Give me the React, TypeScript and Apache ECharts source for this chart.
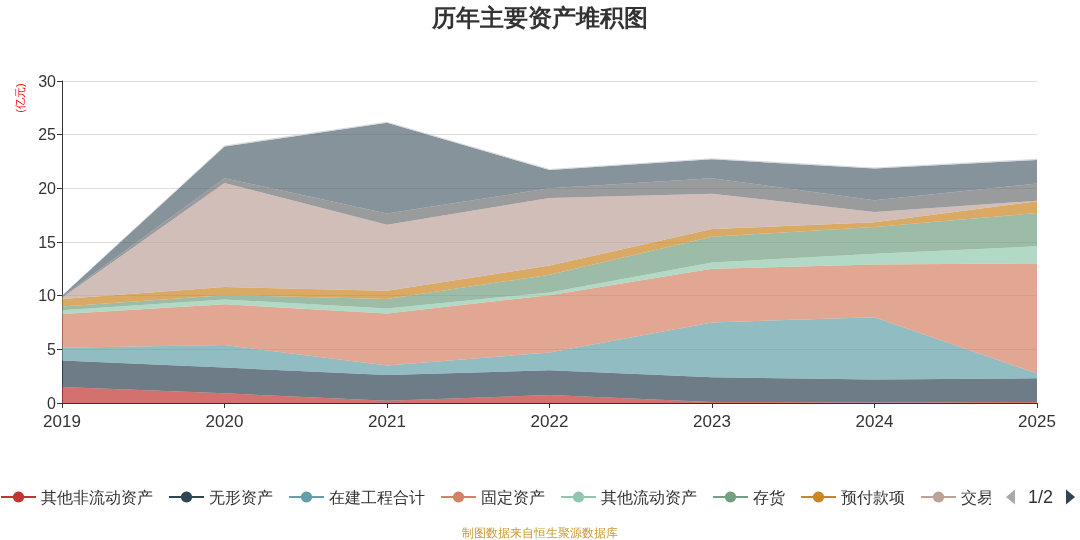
import React, { useEffect, useRef } from "react";
import * as echarts from "echarts";

const years = ["2019", "2020", "2021", "2022", "2023", "2024", "2025"];

const otherNonCurrent = [1.5, 0.9, 0.2, 0.75, 0.1, 0.05, 0.1];
const intangible = [2.45, 2.4, 2.4, 2.3, 2.3, 2.15, 2.2];
const construction = [1.2, 2.1, 0.9, 1.65, 5.1, 5.8, 0.45];
const fixedAssets = [3.15, 3.8, 4.85, 5.35, 5.0, 4.9, 10.25];
const otherCurrent = [0.35, 0.45, 0.45, 0.25, 0.6, 1.0, 1.6];
const inventory = [0.35, 0.4, 0.9, 1.65, 2.4, 2.5, 3.1];
const prepayments = [0.7, 0.75, 0.75, 0.85, 0.7, 0.45, 1.1];
const tradingAssets = [0.1, 9.7, 6.15, 6.3, 3.3, 0.95, 0.05];
const receivables = [0.1, 0.45, 1.05, 0.9, 1.45, 1.1, 1.6];
const cash = [0.1, 2.95, 8.45, 1.7, 1.75, 2.95, 2.2];
const others = [0.05, 0.1, 0.1, 0.1, 0.1, 0.1, 0.1];

const seriesNames = [
  "其他非流动资产",
  "无形资产",
  "在建工程合计",
  "固定资产",
  "其他流动资产",
  "存货",
  "预付款项",
  "交易性金融资产",
  "应收账款",
  "货币资金",
  "其他资产",
];
const seriesData = [
  otherNonCurrent,
  intangible,
  construction,
  fixedAssets,
  otherCurrent,
  inventory,
  prepayments,
  tradingAssets,
  receivables,
  cash,
  others,
];
const colors = [
  "#c23531",
  "#2f4554",
  "#61a0a8",
  "#d48265",
  "#91c7ae",
  "#749f83",
  "#ca8622",
  "#bda29a",
  "#6e7074",
  "#546570",
  "#c4ccd3",
];

const yTicks = { min: 0, max: 30, interval: 5 };

export default function App() {
  const ref = useRef<HTMLDivElement>(null);
  useEffect(() => {
    if (!ref.current) return;
    const chart = echarts.init(ref.current, undefined, { renderer: "svg" });
    chart.setOption({
      animation: false,
      color: colors,
      title: {
        text: "历年主要资产堆积图",
        left: "center",
        top: 0,
        textStyle: { fontSize: 24, fontWeight: "bold", color: "#333" },
      },
      grid: { left: 62, right: 43, top: 81, bottom: 137 },
      legend: {
        type: "scroll",
        left: -5,
        top: 483,
        right: -3,
        itemWidth: 35,
        itemHeight: 14,
        itemGap: 15,
        textStyle: { fontSize: 15.5, color: "#333" },
        pageTextStyle: { fontSize: 18, color: "#333" },
        pageIconColor: "#2f4554",
        pageIconInactiveColor: "#aaa",
        pageIconSize: 15,
        lineStyle: { width: 2, opacity: 1 },
        data: seriesNames,
      },
      xAxis: {
        type: "category",
        boundaryGap: false,
        data: years,
        axisLine: { lineStyle: { color: "#333" } },
        axisTick: { alignWithLabel: true, lineStyle: { color: "#333" } },
        axisLabel: { fontSize: 17, color: "#333", margin: 10 },
      },
      yAxis: {
        type: "value",
        min: yTicks.min,
        max: yTicks.max,
        interval: yTicks.interval,
        axisLine: { show: true, lineStyle: { color: "#333" } },
        axisTick: { show: true, lineStyle: { color: "#333" } },
        axisLabel: { fontSize: 16, color: "#333", margin: 6 },
        splitLine: { lineStyle: { color: "#ddd" } },
      },
      graphic: [
        {
          type: "text",
          x: 20,
          y: 98,
          rotation: Math.PI / 2,
          style: {
            text: "(亿元)",
            fill: "red",
            fontSize: 11,
            align: "center",
            verticalAlign: "middle",
          },
        },
        {
          type: "text",
          x: 540,
          y: 533,
          style: {
            text: "制图数据来自恒生聚源数据库",
            fill: "#cc9933",
            fontSize: 12,
            align: "center",
            verticalAlign: "middle",
          },
        },
      ],
      series: seriesNames.map((name, i) => ({
        name,
        type: "line",
        stack: "total",
        data: seriesData[i],
        symbol: "circle",
        showSymbol: false,
        lineStyle: { width: 0, opacity: 0 },
        areaStyle: { opacity: 0.7 },
        itemStyle: { color: colors[i] },
      })),
    });
    return () => chart.dispose();
  }, []);
  return (
    <div
      ref={ref}
      style={{ position: "fixed", left: 0, top: 0, width: 1080, height: 540 }}
    />
  );
}
